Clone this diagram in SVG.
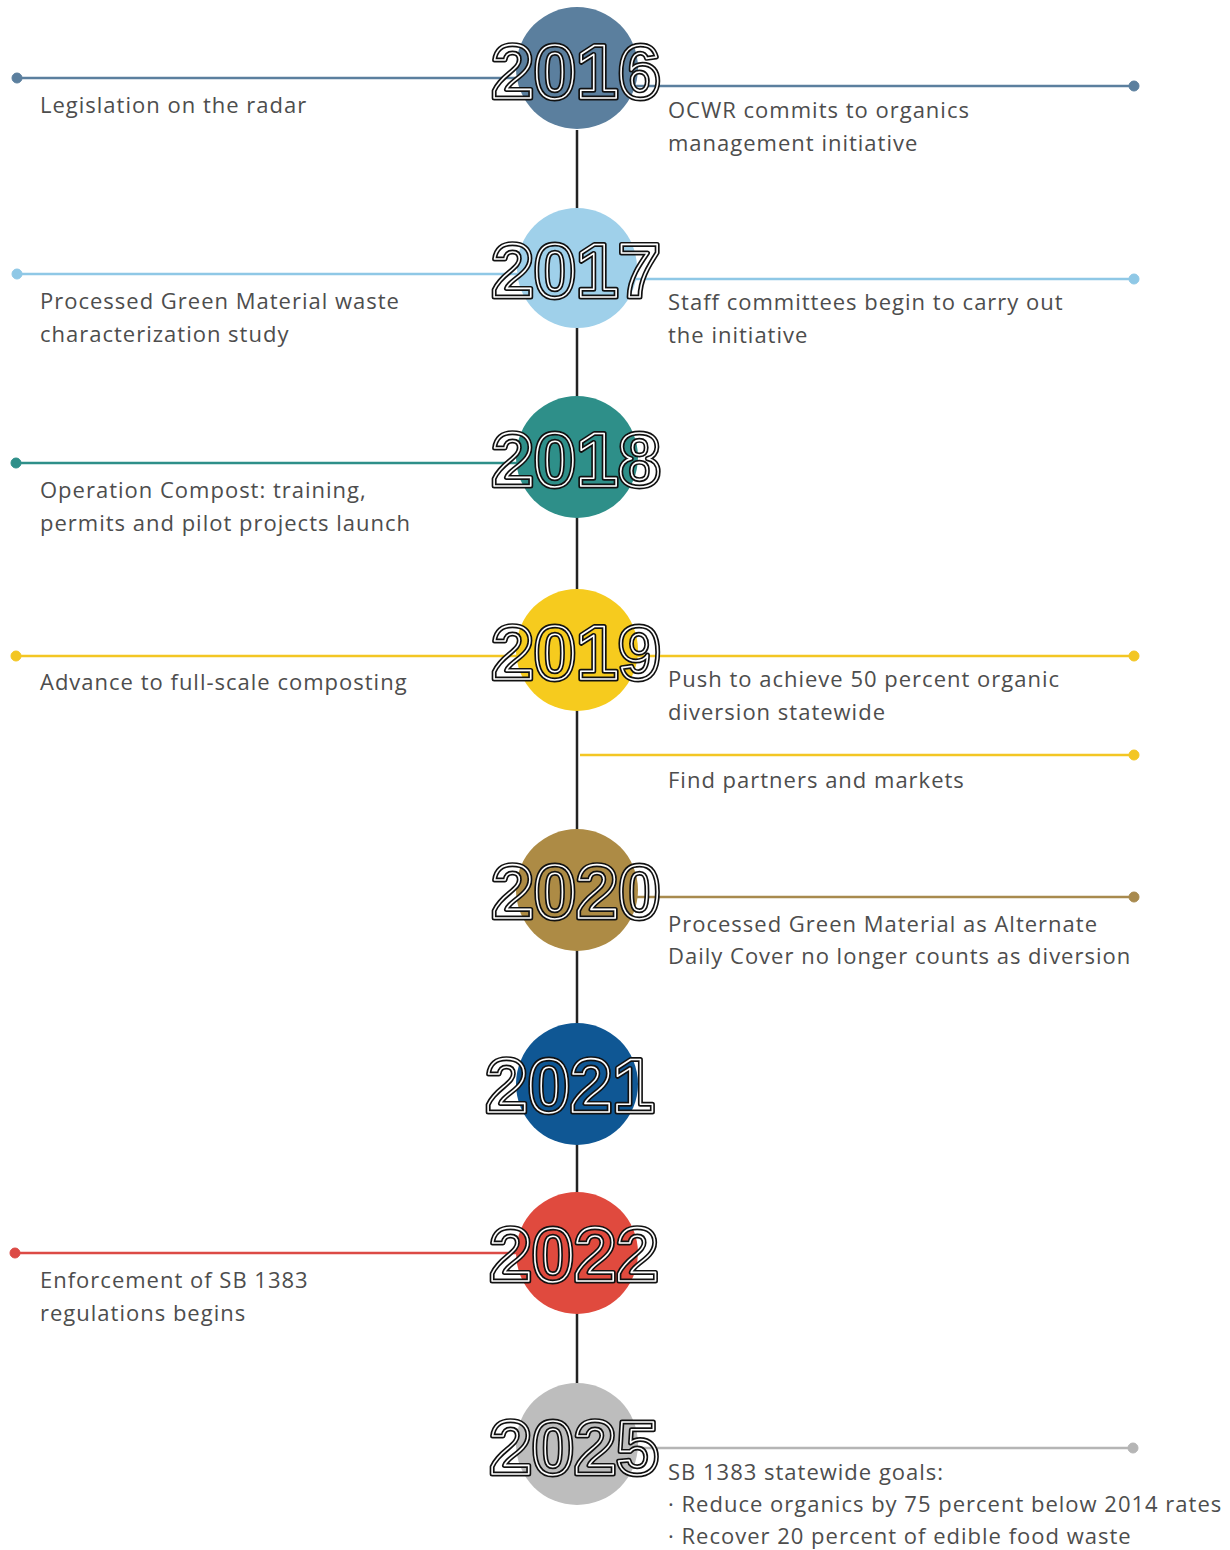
<svg xmlns="http://www.w3.org/2000/svg" width="1230" height="1550" viewBox="0 0 1230 1550">
<style>
.lbl{font-family:"Open Sans","Liberation Sans",sans-serif;font-size:22px;letter-spacing:1px;fill:#4d4d4d;}
.yr{font-family:"Liberation Sans","Arial",sans-serif;font-weight:bold;font-size:76px;}
.yo{fill:none;stroke:#111;stroke-width:5;stroke-linejoin:round;}
.yi{fill:none;stroke:#fff;stroke-width:1.6;stroke-linejoin:round;}
.ln{stroke-width:2.5;fill:none;}
</style>
<rect width="1230" height="1550" fill="#fff"/>
<g id="connectors">
<line x1="577" y1="130" x2="577" y2="1390" stroke="#222" stroke-width="2.5"/>
<g stroke="#5b7f9e" fill="#5b7f9e"><line class="ln" x1="17" y1="78" x2="560" y2="78"/><circle cx="17" cy="78" r="5"/><line class="ln" x1="600" y1="86" x2="1134" y2="86"/><circle cx="1134" cy="86" r="5"/></g>
<g stroke="#8fc8e6" fill="#8fc8e6"><line class="ln" x1="17" y1="274" x2="560" y2="274"/><circle cx="17" cy="274" r="5"/><line class="ln" x1="600" y1="279" x2="1134" y2="279"/><circle cx="1134" cy="279" r="5"/></g>
<g stroke="#2e8f89" fill="#2e8f89"><line class="ln" x1="16" y1="463" x2="560" y2="463"/><circle cx="16" cy="463" r="5"/></g>
<g stroke="#f3c623" fill="#f3c623"><line class="ln" x1="16" y1="656" x2="560" y2="656"/><circle cx="16" cy="656" r="5"/><line class="ln" x1="600" y1="656" x2="1134" y2="656"/><circle cx="1134" cy="656" r="5"/><line class="ln" x1="580" y1="755" x2="1134" y2="755"/><circle cx="1134" cy="755" r="5"/></g>
<g stroke="#a88a4e" fill="#a88a4e"><line class="ln" x1="600" y1="897" x2="1134" y2="897"/><circle cx="1134" cy="897" r="5"/></g>
<g stroke="#dc4a45" fill="#dc4a45"><line class="ln" x1="15" y1="1253" x2="560" y2="1253"/><circle cx="15" cy="1253" r="5"/></g>
<g stroke="#b5b5b5" fill="#b5b5b5"><line class="ln" x1="600" y1="1448" x2="1133" y2="1448"/><circle cx="1133" cy="1448" r="5"/></g>
</g>
<g id="n2016"><circle cx="577" cy="68" r="61" fill="#5b7f9e"/><text class="yr yo" x="576" y="98" text-anchor="middle">2016</text><text class="yr yi" x="576" y="98" text-anchor="middle">2016</text>
<text class="lbl" x="40" y="113">Legislation on the radar</text>
<text class="lbl" x="668" y="118">OCWR commits to organics</text><text class="lbl" x="668" y="151">management initiative</text></g>
<g id="n2017"><circle cx="577" cy="268" r="60" fill="#9fd0ea"/><text class="yr yo" x="576" y="297" text-anchor="middle">2017</text><text class="yr yi" x="576" y="297" text-anchor="middle">2017</text>
<text class="lbl" x="40" y="309">Processed Green Material waste</text><text class="lbl" x="40" y="342">characterization study</text>
<text class="lbl" x="668" y="310">Staff committees begin to carry out</text><text class="lbl" x="668" y="343">the initiative</text></g>
<g id="n2018"><circle cx="577" cy="457" r="61" fill="#2e8f89"/><text class="yr yo" x="576" y="486" text-anchor="middle">2018</text><text class="yr yi" x="576" y="486" text-anchor="middle">2018</text>
<text class="lbl" x="40" y="498">Operation Compost: training,</text><text class="lbl" x="40" y="531">permits and pilot projects launch</text></g>
<g id="n2019"><circle cx="577" cy="650" r="61" fill="#f6cb1e"/><text class="yr yo" x="576" y="679" text-anchor="middle">2019</text><text class="yr yi" x="576" y="679" text-anchor="middle">2019</text>
<text class="lbl" x="40" y="690">Advance to full-scale composting</text>
<text class="lbl" x="668" y="687">Push to achieve 50 percent organic</text><text class="lbl" x="668" y="720">diversion statewide</text>
<text class="lbl" x="668" y="788">Find partners and markets</text></g>
<g id="n2020"><circle cx="577" cy="890" r="61" fill="#ad8b45"/><text class="yr yo" x="576" y="918" text-anchor="middle">2020</text><text class="yr yi" x="576" y="918" text-anchor="middle">2020</text>
<text class="lbl" x="668" y="932">Processed Green Material as Alternate</text><text class="lbl" x="668" y="964">Daily Cover no longer counts as diversion</text></g>
<g id="n2021"><circle cx="577" cy="1084" r="61" fill="#0f5794"/><text class="yr yo" x="570" y="1112" text-anchor="middle">2021</text><text class="yr yi" x="570" y="1112" text-anchor="middle">2021</text></g>
<g id="n2022"><circle cx="577" cy="1253" r="61" fill="#e04a3e"/><text class="yr yo" x="574" y="1281" text-anchor="middle">2022</text><text class="yr yi" x="574" y="1281" text-anchor="middle">2022</text>
<text class="lbl" x="40" y="1288">Enforcement of SB 1383</text><text class="lbl" x="40" y="1321">regulations begins</text></g>
<g id="n2025"><circle cx="577" cy="1444" r="61" fill="#bdbdbd"/><text class="yr yo" x="574" y="1474" text-anchor="middle">2025</text><text class="yr yi" x="574" y="1474" text-anchor="middle">2025</text>
<text class="lbl" x="668" y="1480">SB 1383 statewide goals:</text><text class="lbl" x="668" y="1512">· Reduce organics by 75 percent below 2014 rates</text><text class="lbl" x="668" y="1544">· Recover 20 percent of edible food waste</text></g>
</svg>
